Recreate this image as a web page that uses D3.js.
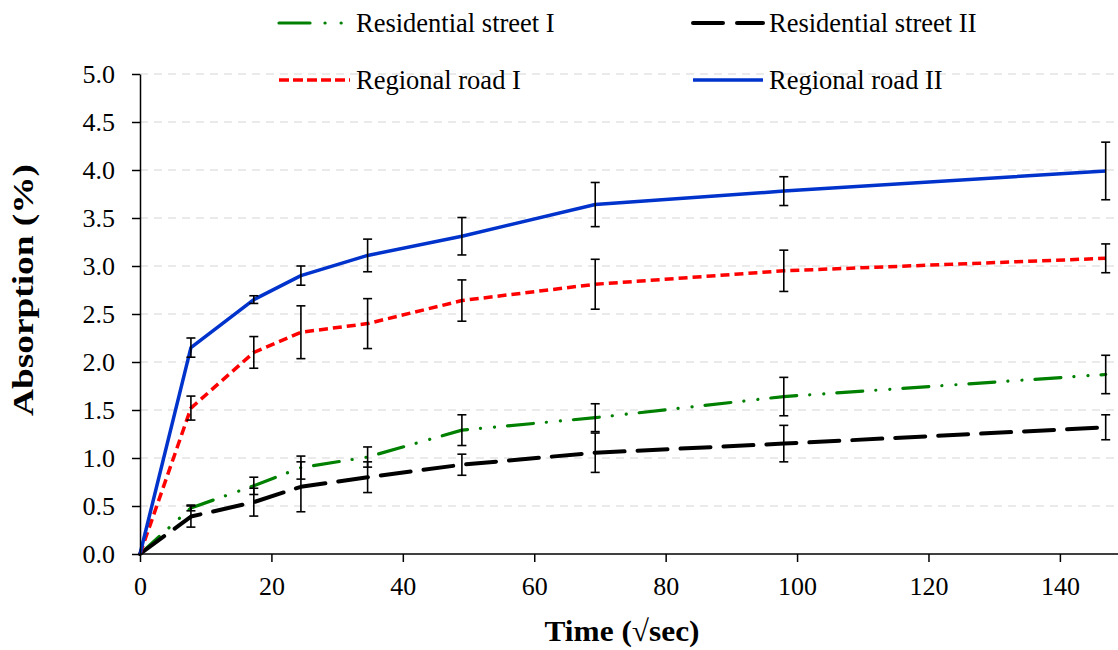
<!DOCTYPE html>
<html>
<head>
<meta charset="utf-8">
<script src="https://cdn.jsdelivr.net/npm/d3@7"></script>
<style>
  html, body { margin: 0; padding: 0; background: #fff; }
  svg { display: block; font-family: "Liberation Serif", "Times New Roman", Times, serif; }
</style>
</head>
<body>
<svg id="chart" width="1118" height="650"></svg>
<script>
// ---- data ----
const timeSqrtSec = [0, 7.75, 17.32, 24.49, 34.64, 48.99, 69.28, 97.98, 146.97];
const seriesNames = ["Residential street I", "Residential street II", "Regional road I", "Regional road II"];
const residentialI   = [0, 0.48, 0.71, 0.90, 1.01, 1.29, 1.42, 1.64, 1.87];
const residentialIErr = [0, 0.03, 0.09, 0.12, 0.105, 0.16, 0.145, 0.20, 0.20];
const residentialII  = [0, 0.39, 0.54, 0.70, 0.80, 0.93, 1.055, 1.15, 1.32];
const residentialIIErr = [0, 0.11, 0.145, 0.26, 0.16, 0.11, 0.205, 0.19, 0.13];
const regionalI      = [0, 1.52, 2.10, 2.31, 2.40, 2.64, 2.81, 2.95, 3.08];
const regionalIErr   = [0, 0.125, 0.165, 0.275, 0.26, 0.215, 0.26, 0.215, 0.15];
const regionalII     = [0, 2.15, 2.65, 2.90, 3.11, 3.31, 3.64, 3.78, 3.99];
const regionalIIErr  = [0, 0.10, 0.04, 0.10, 0.17, 0.195, 0.23, 0.15, 0.30];
const xTicks = [0, 20, 40, 60, 80, 100, 120, 140];
const yTicks = [0, 0.5, 1, 1.5, 2, 2.5, 3, 3.5, 4, 4.5, 5];

const FONT = '"Liberation Serif", "Times New Roman", Times, serif';
const styles = [
  { color: "#008000", width: 3.2, dash: "26,13,0.1,14,0.1,13", legendDash: "31,15,0.1,16,0.1,30", cap: "round" },
  { color: "#000000", width: 4,   dash: "30,13", legendDash: "30,14", cap: "round" },
  { color: "#ff0000", width: 3.5, dash: "9,5",   legendDash: "10,4", cap: "butt" },
  { color: "#0033cc", width: 3.5, dash: null,    legendDash: null, cap: "butt" }
];
const values = [residentialI, residentialII, regionalI, regionalII];
const errors = [residentialIErr, residentialIIErr, regionalIErr, regionalIIErr];

const svg = d3.select("#chart");
const x = d3.scaleLinear().domain([0, 150]).range([140, 1125.6]);
const y = d3.scaleLinear().domain([0, 5]).range([554, 74]);

// gridlines
svg.append("g").selectAll("line").data(yTicks.filter(d => d > 0)).join("line")
  .attr("x1", x(0)).attr("x2", 1118)
  .attr("y1", d => y(d)).attr("y2", d => y(d))
  .attr("stroke", "#e3e3e3").attr("stroke-width", 1.5).attr("stroke-dasharray", "8,6");

// lines
const line = d3.line().x(d => x(d[0])).y(d => y(d[1]));
values.forEach((vals, i) => {
  const s = styles[i];
  svg.append("path")
    .datum(timeSqrtSec.map((t, j) => [t, vals[j]]))
    .attr("d", line)
    .attr("fill", "none")
    .attr("stroke", s.color)
    .attr("stroke-width", s.width)
    .attr("stroke-linecap", s.cap)
    .attr("stroke-linejoin", "round")
    .attr("stroke-dasharray", s.dash);
});

// error bars
values.forEach((vals, i) => {
  const g = svg.append("g").attr("stroke", "#000").attr("stroke-width", 1.6);
  timeSqrtSec.forEach((t, j) => {
    const e = errors[i][j];
    if (!e) return;
    const cx = x(t), y1 = y(vals[j] + e), y2 = y(vals[j] - e);
    g.append("line").attr("x1", cx).attr("x2", cx).attr("y1", y1).attr("y2", y2);
    g.append("line").attr("x1", cx - 4.5).attr("x2", cx + 4.5).attr("y1", y1).attr("y2", y1);
    g.append("line").attr("x1", cx - 4.5).attr("x2", cx + 4.5).attr("y1", y2).attr("y2", y2);
  });
});

// axes
const xAxis = svg.append("g").attr("transform", `translate(0,${y(0)})`)
  .call(d3.axisBottom(x).tickValues(xTicks).tickSize(8).tickSizeOuter(0).tickPadding(15));
xAxis.select(".domain").attr("d", `M${x(0)},0H1118`);
const yAxis = svg.append("g").attr("transform", `translate(${x(0)},0)`)
  .call(d3.axisLeft(y).tickValues(yTicks).tickFormat(d3.format(".1f")).tickSize(8).tickSizeOuter(0).tickPadding(17));
[xAxis, yAxis].forEach(a => {
  a.select(".domain").attr("stroke", "#000").attr("stroke-width", 1.5);
  a.selectAll(".tick line").attr("stroke", "#000").attr("stroke-width", 1.5);
  a.selectAll(".tick text").attr("fill", "#000")
    .style("font-family", FONT).style("font-size", "26px");
});

// axis titles
svg.append("text").attr("x", 622).attr("y", 641).attr("text-anchor", "middle")
  .attr("textLength", 155).attr("lengthAdjust", "spacingAndGlyphs")
  .style("font-family", FONT).style("font-size", "30px").style("font-weight", "bold").text("Time (√sec)");
svg.append("text").attr("transform", "translate(33,290) rotate(-90)").attr("text-anchor", "middle")
  .attr("textLength", 252).attr("lengthAdjust", "spacingAndGlyphs")
  .style("font-family", FONT).style("font-size", "30px").style("font-weight", "bold").text("Absorption (%)");

// legend
const legendPos = [
  { lx: 279, tx: 356, ly: 23 }, { lx: 693, tx: 769, ly: 23 },
  { lx: 279, tx: 356, ly: 80 }, { lx: 693, tx: 769, ly: 80 }
];
seriesNames.forEach((name, i) => {
  const p = legendPos[i], s = styles[i];
  svg.append("line").attr("x1", p.lx).attr("x2", p.tx - 6).attr("y1", p.ly).attr("y2", p.ly)
    .attr("stroke", s.color).attr("stroke-width", s.width)
    .attr("stroke-linecap", s.cap).attr("stroke-dasharray", s.legendDash);
  svg.append("text").attr("x", p.tx).attr("y", p.ly).attr("dy", "0.33em")
    .style("font-family", FONT).style("font-size", "26.5px").text(name);
});
</script>
</body>
</html>
